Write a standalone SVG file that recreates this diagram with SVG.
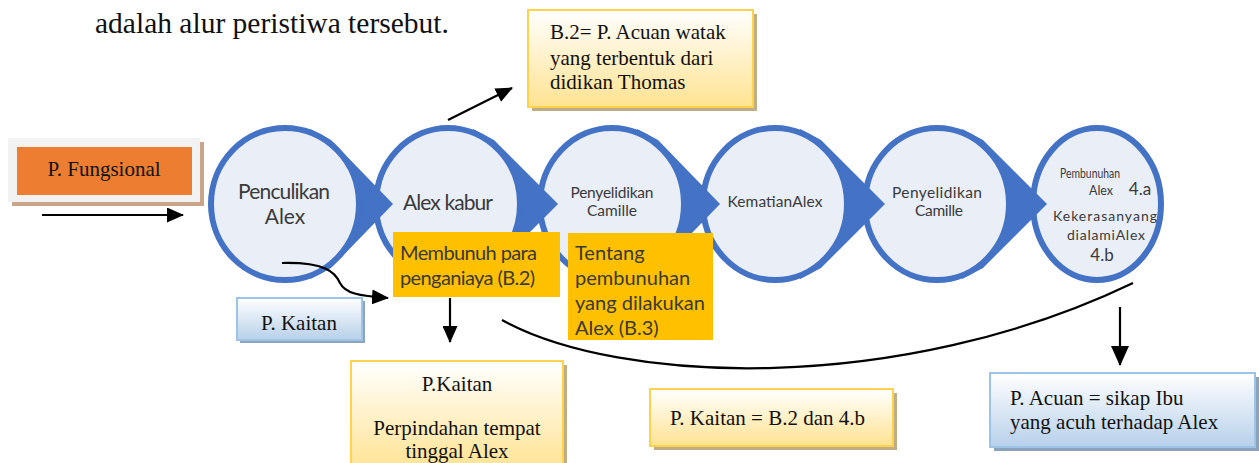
<svg xmlns="http://www.w3.org/2000/svg" width="1259" height="463" viewBox="0 0 1259 463">
<defs>
<linearGradient id="yg" x1="0" y1="0" x2="0" y2="1"><stop offset="0" stop-color="#FFFFFF"/><stop offset="1" stop-color="#FFE391"/></linearGradient>
<linearGradient id="bg" x1="0" y1="0" x2="0" y2="1"><stop offset="0" stop-color="#FFFFFF"/><stop offset="1" stop-color="#B7D0EA"/></linearGradient>
<marker id="ah" markerUnits="userSpaceOnUse" markerWidth="17" markerHeight="15" refX="16" refY="7.5" orient="auto"><path d="M0,0 L17,7.5 L0,15 z" fill="#000"/></marker>
<marker id="ahb" markerUnits="userSpaceOnUse" markerWidth="20" markerHeight="18" refX="19" refY="9" orient="auto"><path d="M0,0 L20,9 L0,18 z" fill="#000"/></marker>
</defs>
<style>
.ring{fill:#E9EEF7;stroke:#4472C4;stroke-width:6}
.chev{fill:#4472C4}
.ct{font-family:Lato,"Open Sans",sans-serif;fill:#3A3A3A;text-anchor:middle}
.gold{fill:#FFC000}
.gt{font-family:Lato,"Open Sans",sans-serif;font-size:20px;fill:#3A3A3A}
.st{font-family:"Liberation Serif","Times New Roman",serif;font-size:21px;fill:#111}
.ybox{fill:url(#yg);stroke:#FFD24D;stroke-width:2}
.ysh{fill:#BFAD85}
.bbox{fill:url(#bg);stroke:#9DC3E6;stroke-width:2}
.bsh{fill:#8CA3BE}
.ln{fill:none;stroke:#000;stroke-width:2.2}
</style>

<text x="95" y="33" font-family="Liberation Serif, Times New Roman, serif" font-size="29.5" fill="#111">adalah alur peristiwa tersebut.</text>

<g id="node6">
<ellipse class="ring" cx="1097" cy="204" rx="64" ry="76"/>
<text class="ct" x="1090" y="178" font-size="14" textLength="60" lengthAdjust="spacingAndGlyphs">Pembunuhan</text>
<text class="ct" x="1101" y="195" font-size="14" textLength="24" lengthAdjust="spacingAndGlyphs">Alex</text>
<text class="ct" x="1140" y="195" font-size="17">4.a</text>
<text class="ct" x="1105" y="221" font-size="14" textLength="104">Kekerasanyang</text>
<text class="ct" x="1106" y="240" font-size="14" textLength="78">dialamiAlex</text>
<text class="ct" x="1102" y="261" font-size="17">4.b</text>
</g>
<g id="node5">
<polygon class="chev" points="962,129 983,140 1047,204 983,268 962,279"/>
<ellipse class="ring" cx="937" cy="204" rx="72" ry="76"/>
<text class="ct" x="937" y="198" font-size="15.5" textLength="90">Penyelidikan</text>
<text class="ct" x="939" y="216" font-size="15.5" textLength="48">Camille</text>
</g>
<g id="node4">
<polygon class="chev" points="800,129 821,140 885,204 821,268 800,279"/>
<ellipse class="ring" cx="775" cy="204" rx="72" ry="76"/>
<text class="ct" x="775" y="207" font-size="15.5" textLength="95">KematianAlex</text>
</g>
<g id="node3">
<polygon class="chev" points="637,129 658,140 720,204 658,268 637,279"/>
<ellipse class="ring" cx="612" cy="204" rx="72" ry="76"/>
<text class="ct" x="612" y="198" font-size="15.5" textLength="83">Penyelidikan</text>
<text class="ct" x="612" y="216" font-size="15.5" textLength="50">Camille</text>
</g>
<g id="node2">
<polygon class="chev" points="473,129 494,140 558,204 494,268 473,279"/>
<ellipse class="ring" cx="448" cy="204" rx="72" ry="76"/>
<text class="ct" x="448" y="210" font-size="21" textLength="90">Alex kabur</text>
</g>
<g id="node1">
<polygon class="chev" points="310,129 331,140 393,204 331,268 310,279"/>
<ellipse class="ring" cx="285" cy="204" rx="74" ry="76"/>
<text class="ct" x="284" y="199" font-size="21" textLength="92">Penculikan</text>
<text class="ct" x="285" y="224" font-size="21">Alex</text>
</g>

<g id="box-membunuh">
<rect class="gold" x="393" y="232" width="167" height="65"/>
<text class="gt" x="400" y="260" textLength="137">Membunuh para</text>
<text class="gt" x="400" y="285" textLength="135">penganiaya (B.2)</text>
</g>
<g id="box-tentang">
<rect class="gold" x="568" y="233" width="145" height="107"/>
<text class="gt" x="575" y="260">Tentang</text>
<text class="gt" x="575" y="285">pembunuhan</text>
<text class="gt" x="575" y="310">yang dilakukan</text>
<text class="gt" x="575" y="335">Alex (B.3)</text>
</g>

<g id="box-fungsional">
<rect x="12" y="142" width="192" height="64" fill="#C9A489"/>
<rect x="8" y="138" width="192" height="64" fill="#F2F2F2"/>
<rect x="17" y="147" width="175" height="48" fill="#ED7D31"/>
<text class="st" x="104" y="176" text-anchor="middle">P. Fungsional</text>
</g>

<g id="box-acuan-watak">
<rect class="ysh" x="532" y="14" width="225" height="97"/>
<rect class="ybox" x="528" y="10" width="225" height="97"/>
<text class="st" x="550" y="39">B.2= P. Acuan watak</text>
<text class="st" x="550" y="65">yang terbentuk dari</text>
<text class="st" x="550" y="89">didikan Thomas</text>
</g>

<g id="box-kaitan-blue">
<rect class="bsh" x="240" y="301" width="125" height="42"/>
<rect class="bbox" x="237" y="298" width="125" height="42"/>
<text class="st" x="299" y="330" text-anchor="middle">P. Kaitan</text>
</g>

<g id="box-kaitan-perpindahan">
<rect class="ysh" x="355" y="365" width="212" height="110"/>
<rect class="ybox" x="351" y="361" width="212" height="110"/>
<text class="st" x="457" y="391" text-anchor="middle">P.Kaitan</text>
<text class="st" x="457" y="435" text-anchor="middle">Perpindahan tempat</text>
<text class="st" x="457" y="458" text-anchor="middle">tinggal Alex</text>
</g>

<g id="box-kaitan-b2">
<rect class="ysh" x="654" y="393" width="243" height="57"/>
<rect class="ybox" x="650" y="389" width="243" height="57"/>
<text class="st" x="670" y="425">P. Kaitan = B.2 dan 4.b</text>
</g>

<g id="box-acuan-ibu">
<rect class="bsh" x="994" y="377" width="265" height="74"/>
<rect class="bbox" x="990" y="373" width="265" height="74"/>
<text class="st" x="1010" y="405">P. Acuan = sikap Ibu</text>
<text class="st" x="1010" y="429">yang acuh terhadap Alex</text>
</g>

<g id="connectors">
<path class="ln" d="M42,215 L183,215" marker-end="url(#ah)"/>
<path class="ln" d="M448,120 L512,88" marker-end="url(#ah)"/>
<path class="ln" d="M282,263 C325,262 335,272 340,283 C345,293 358,296 388,298" marker-end="url(#ah)"/>
<path class="ln" d="M450,298 L450,342" marker-end="url(#ah)"/>
<path class="ln" d="M502,320 C620,385 900,395 1133,283"/>
<path class="ln" d="M1120,307 L1120,365" marker-end="url(#ahb)"/>
</g>
</svg>
